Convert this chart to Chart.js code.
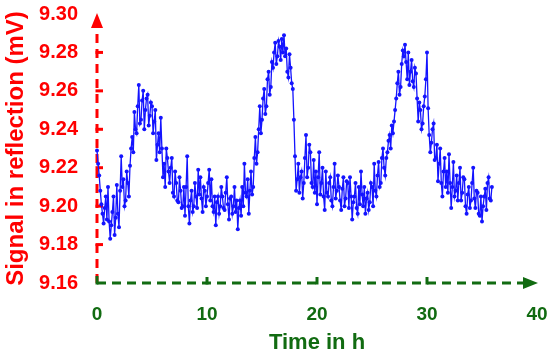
<!DOCTYPE html>
<html><head><meta charset="utf-8">
<script src="https://cdn.jsdelivr.net/npm/chart.js@4/dist/chart.umd.min.js"></script>
<style>html,body{margin:0;padding:0;background:#fff}#wrap{width:550px;height:357px}</style>
</head><body><div id="wrap"><canvas id="c" width="550" height="357"></canvas></div>
<script>
const timeHours = [
0,0.1,0.2,0.3,0.4,0.5,0.6,0.7,0.8,0.9,
1,1.1,1.2,1.3,1.4,1.5,1.6,1.7,1.8,1.9,
2,2.1,2.2,2.3,2.4,2.5,2.6,2.7,2.8,2.9,
3,3.1,3.2,3.3,3.4,3.5,3.6,3.7,3.8,3.9,
4,4.1,4.2,4.3,4.4,4.5,4.6,4.7,4.8,4.9,
5,5.1,5.2,5.3,5.4,5.5,5.6,5.7,5.8,5.9,
6,6.1,6.2,6.3,6.4,6.5,6.6,6.7,6.8,6.9,
7,7.1,7.2,7.3,7.4,7.5,7.6,7.7,7.8,7.9,
8,8.1,8.2,8.3,8.4,8.5,8.6,8.7,8.8,8.9,
9,9.1,9.2,9.3,9.4,9.5,9.6,9.7,9.8,9.9,
10,10.1,10.2,10.3,10.4,10.5,10.6,10.7,10.8,10.9,
11,11.1,11.2,11.3,11.4,11.5,11.6,11.7,11.8,11.9,
12,12.1,12.2,12.3,12.4,12.5,12.6,12.7,12.8,12.9,
13,13.1,13.2,13.3,13.4,13.5,13.6,13.7,13.8,13.9,
14,14.1,14.2,14.3,14.4,14.5,14.6,14.7,14.8,14.9,
15,15.1,15.2,15.3,15.4,15.5,15.6,15.7,15.8,15.9,
16,16.1,16.2,16.3,16.4,16.5,16.6,16.7,16.8,16.9,
17,17.1,17.2,17.3,17.4,17.5,17.6,17.7,17.8,17.9,
18,18.1,18.2,18.3,18.4,18.5,18.6,18.7,18.8,18.9,
19,19.1,19.2,19.3,19.4,19.5,19.6,19.7,19.8,19.9,
20,20.1,20.2,20.3,20.4,20.5,20.6,20.7,20.8,20.9,
21,21.1,21.2,21.3,21.4,21.5,21.6,21.7,21.8,21.9,
22,22.1,22.2,22.3,22.4,22.5,22.6,22.7,22.8,22.9,
23,23.1,23.2,23.3,23.4,23.5,23.6,23.7,23.8,23.9,
24,24.1,24.2,24.3,24.4,24.5,24.6,24.7,24.8,24.9,
25,25.1,25.2,25.3,25.4,25.5,25.6,25.7,25.8,25.9,
26,26.1,26.2,26.3,26.4,26.5,26.6,26.7,26.8,26.9,
27,27.1,27.2,27.3,27.4,27.5,27.6,27.7,27.8,27.9,
28,28.1,28.2,28.3,28.4,28.5,28.6,28.7,28.8,28.9,
29,29.1,29.2,29.3,29.4,29.5,29.6,29.7,29.8,29.9,
30,30.1,30.2,30.3,30.4,30.5,30.6,30.7,30.8,30.9,
31,31.1,31.2,31.3,31.4,31.5,31.6,31.7,31.8,31.9,
32,32.1,32.2,32.3,32.4,32.5,32.6,32.7,32.8,32.9,
33,33.1,33.2,33.3,33.4,33.5,33.6,33.7,33.8,33.9,
34,34.1,34.2,34.3,34.4,34.5,34.6,34.7,34.8,34.9,
35,35.1,35.2,35.3,35.4,35.5,35.6,35.7,35.8,35.9
];
const signalMV = [
9.229,9.222,9.216,9.208,9.201,9.196,9.191,9.199,9.205,9.193,
9.210,9.192,9.183,9.190,9.197,9.205,9.185,9.194,9.211,9.196,
9.189,9.208,9.226,9.210,9.214,9.200,9.203,9.218,9.212,9.205,
9.221,9.230,9.236,9.228,9.249,9.240,9.238,9.252,9.263,9.243,
9.245,9.255,9.260,9.240,9.250,9.256,9.258,9.242,9.247,9.254,
9.252,9.238,9.244,9.250,9.224,9.232,9.238,9.228,9.246,9.230,
9.215,9.222,9.210,9.230,9.225,9.218,9.212,9.220,9.225,9.207,
9.205,9.218,9.212,9.203,9.202,9.215,9.208,9.199,9.200,9.210,
9.195,9.210,9.226,9.200,9.191,9.203,9.208,9.197,9.200,9.212,
9.205,9.199,9.219,9.206,9.215,9.204,9.197,9.210,9.208,9.200,
9.205,9.212,9.219,9.203,9.214,9.200,9.197,9.205,9.190,9.202,
9.205,9.196,9.200,9.210,9.205,9.199,9.198,9.207,9.215,9.201,
9.193,9.204,9.205,9.196,9.200,9.210,9.197,9.203,9.188,9.199,
9.203,9.195,9.210,9.200,9.222,9.207,9.205,9.214,9.196,9.208,
9.218,9.206,9.210,9.225,9.236,9.222,9.228,9.240,9.252,9.238,
9.245,9.256,9.261,9.248,9.252,9.266,9.270,9.258,9.262,9.275,
9.272,9.280,9.285,9.274,9.278,9.286,9.283,9.276,9.287,9.280,
9.289,9.278,9.282,9.270,9.267,9.279,9.272,9.264,9.261,9.245,
9.226,9.208,9.214,9.222,9.207,9.215,9.218,9.204,9.212,9.225,
9.237,9.215,9.220,9.232,9.228,9.212,9.210,9.224,9.207,9.218,
9.201,9.215,9.228,9.206,9.212,9.220,9.205,9.198,9.218,9.207,
9.205,9.212,9.215,9.203,9.200,9.210,9.222,9.204,9.208,9.216,
9.210,9.203,9.198,9.209,9.215,9.200,9.204,9.213,9.212,9.199,
9.215,9.205,9.193,9.202,9.205,9.212,9.199,9.196,9.210,9.201,
9.218,9.206,9.200,9.210,9.196,9.204,9.207,9.198,9.202,9.212,
9.210,9.200,9.222,9.208,9.205,9.216,9.223,9.210,9.212,9.225,
9.230,9.220,9.216,9.225,9.228,9.234,9.237,9.230,9.242,9.238,
9.244,9.250,9.256,9.264,9.270,9.258,9.262,9.274,9.281,9.278,
9.284,9.275,9.266,9.280,9.263,9.270,9.276,9.265,9.262,9.272,
9.269,9.256,9.244,9.254,9.250,9.240,9.243,9.252,9.257,9.266,
9.280,9.251,9.237,9.228,9.233,9.240,9.243,9.224,9.225,9.232,
9.213,9.222,9.230,9.212,9.205,9.218,9.225,9.210,9.218,9.207,
9.227,9.212,9.199,9.210,9.223,9.205,9.208,9.216,9.203,9.212,
9.220,9.203,9.207,9.215,9.214,9.200,9.196,9.206,9.210,9.199,
9.203,9.212,9.220,9.204,9.199,9.208,9.207,9.196,9.195,9.205,
9.192,9.200,9.205,9.209,9.198,9.212,9.215,9.204,9.203,9.210
];
const xTicks = [0,10,20,30,40];
const yTicks = [9.16,9.18,9.20,9.22,9.24,9.26,9.28,9.30];
const xTitle = 'Time in h';
const yTitle = 'Signal in reflection (mV)';

const RED = '#ff0000';
const GREEN = '#116b11';
const BLUE = '#1414ff';
const FONT = "'Liberation Sans', Arial, sans-serif";

const axesPlugin = {
  id: 'customAxes',
  beforeDatasetsDraw(chart) {
    const ctx = chart.ctx;
    const xs = chart.scales.x, ys = chart.scales.y;
    const x0 = xs.getPixelForValue(xTicks[0]);
    const x1 = xs.getPixelForValue(xTicks[xTicks.length - 1]);
    const y0 = ys.getPixelForValue(yTicks[0]);
    const y1 = ys.getPixelForValue(yTicks[yTicks.length - 1]);
    ctx.save();
    ctx.lineWidth = 3;
    ctx.lineCap = 'butt';
    ctx.strokeStyle = RED;
    ctx.setLineDash([9, 6]);
    ctx.beginPath(); ctx.moveTo(x0, y0); ctx.lineTo(x0, y1 + 14); ctx.stroke();
    ctx.setLineDash([]);
    yTicks.slice(1, -1).forEach(v => {
      const y = ys.getPixelForValue(v);
      ctx.beginPath(); ctx.moveTo(x0 - 1.5, y); ctx.lineTo(x0 + 6, y); ctx.stroke();
    });
    ctx.fillStyle = RED;
    ctx.beginPath(); ctx.moveTo(x0, y1 - 1); ctx.lineTo(x0 - 6, y1 + 14); ctx.lineTo(x0 + 6, y1 + 14); ctx.closePath(); ctx.fill();
    ctx.strokeStyle = GREEN;
    ctx.setLineDash([9, 6]);
    ctx.beginPath(); ctx.moveTo(x0, y0); ctx.lineTo(x1 - 14, y0); ctx.stroke();
    ctx.setLineDash([]);
    ctx.beginPath(); ctx.moveTo(x0, y0 + 1.5); ctx.lineTo(x0, y0 - 7); ctx.stroke();
    xTicks.slice(1, -1).forEach(v => {
      const x = xs.getPixelForValue(v);
      ctx.beginPath(); ctx.moveTo(x, y0 + 1.5); ctx.lineTo(x, y0 - 6); ctx.stroke();
    });
    ctx.fillStyle = GREEN;
    ctx.beginPath(); ctx.moveTo(x1 + 1, y0); ctx.lineTo(x1 - 14, y0 - 6); ctx.lineTo(x1 - 14, y0 + 6); ctx.closePath(); ctx.fill();
    ctx.restore();
  }
};

new Chart(document.getElementById('c'), {
  type: 'line',
  data: {
    datasets: [{
      data: timeHours.map((t, i) => ({x: t, y: signalMV[i]})),
      borderColor: BLUE,
      backgroundColor: BLUE,
      borderWidth: 1.3,
      pointRadius: 2,
      pointHoverRadius: 2,
      pointBorderWidth: 0,
      tension: 0,
      clip: false
    }]
  },
  options: {
    responsive: false,
    animation: false,
    events: [],
    layout: {padding: {top: 14, right: 13, left: 0, bottom: 0}},
    plugins: {legend: {display: false}, tooltip: {enabled: false}},
    scales: {
      x: {
        type: 'linear', min: 0, max: 40,
        border: {display: false},
        grid: {display: false, drawTicks: false},
        afterBuildTicks: s => { s.ticks = xTicks.map(v => ({value: v})); },
        afterFit: s => { s.height = 74; s.paddingLeft = 0; s.paddingRight = 0; },
        ticks: {color: GREEN, padding: 20, maxRotation: 0, font: {family: FONT, size: 19, weight: 'bold'}},
        title: {display: true, text: xTitle, color: GREEN, padding: {top: 0, bottom: 1}, font: {family: FONT, size: 22, weight: 'bold'}}
      },
      y: {
        type: 'linear', min: 9.16, max: 9.30,
        border: {display: false},
        grid: {display: false, drawTicks: false},
        afterBuildTicks: s => { s.ticks = yTicks.map(v => ({value: v})); },
        afterFit: s => { s.width = 97; s.paddingTop = 0; s.paddingBottom = 0; },
        ticks: {color: RED, padding: 19, callback: v => Number(v).toFixed(2), font: {family: FONT, size: 20, weight: 'bold'}},
        title: {display: true, text: yTitle, color: RED, padding: {top: 2, bottom: 0}, font: {family: FONT, size: 24, weight: 'bold'}}
      }
    }
  },
  plugins: [axesPlugin]
});
</script>
</body></html>
